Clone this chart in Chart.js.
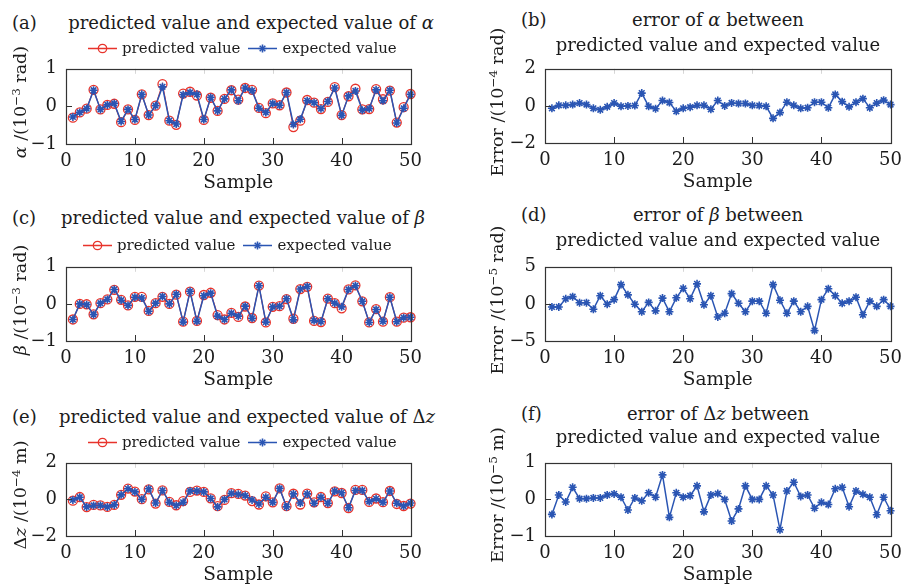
<!DOCTYPE html>
<html><head><meta charset="utf-8">
<script src="https://cdn.jsdelivr.net/npm/chart.js@4"></script>
<style>
html,body{margin:0;padding:0;background:#fff;}
#root{position:relative;width:906px;height:585px;overflow:hidden;font-family:'DejaVu Serif',serif;color:#1c1c1c;}
canvas{position:absolute;}
.t{position:absolute;white-space:nowrap;line-height:1;}
.sup{font-size:0.68em;position:relative;top:-0.5em;}
</style></head><body><div id="root"></div>
<script>
// ---- data ----
const samples = [1,2,3,4,5,6,7,8,9,10,11,12,13,14,15,16,17,18,19,20,21,22,23,24,25,26,27,28,29,30,31,32,33,34,35,36,37,38,39,40,41,42,43,44,45,46,47,48,49,50];
const xTicks = [0,10,20,30,40,50];

const alphaExpected = [-0.28,-0.16,-0.06,0.43,-0.08,0.04,0.08,-0.40,-0.08,-0.35,0.32,-0.23,0.02,0.52,-0.38,-0.47,0.31,0.37,0.32,-0.35,0.24,-0.12,0.20,0.44,0.15,0.49,0.42,-0.05,-0.16,0.08,0.03,0.37,-0.48,-0.34,0.15,0.10,-0.06,0.13,0.49,-0.24,0.28,0.41,-0.10,-0.06,0.44,0.15,0.43,-0.44,-0.05,0.32];
const alphaPredicted = [-0.30,-0.16,-0.06,0.44,-0.08,0.04,0.07,-0.42,-0.08,-0.36,0.32,-0.23,0.02,0.59,-0.38,-0.49,0.34,0.39,0.29,-0.36,0.23,-0.12,0.20,0.43,0.18,0.49,0.44,-0.04,-0.18,0.08,0.03,0.37,-0.55,-0.38,0.17,0.10,-0.07,0.12,0.51,-0.23,0.27,0.47,-0.08,-0.07,0.46,0.19,0.42,-0.43,-0.02,0.33];
const alphaError = [-0.13,0.03,0.03,0.07,0.15,0.07,-0.13,-0.21,-0.05,0.15,-0.02,0.00,0.02,0.69,-0.02,-0.15,0.29,0.18,-0.29,-0.13,-0.07,0.03,0.03,-0.18,0.29,0.00,0.16,0.13,0.13,0.03,0.02,-0.02,-0.67,-0.36,0.20,0.03,-0.13,-0.10,0.20,0.20,-0.10,0.62,0.23,-0.05,0.20,0.39,-0.10,0.15,0.31,0.07];

const betaExpected = [-0.42,0.00,-0.02,-0.29,0.02,0.12,0.39,0.10,-0.04,0.18,0.16,-0.20,0.02,0.20,0.00,0.26,-0.49,0.34,-0.47,0.22,0.29,-0.33,-0.42,-0.25,-0.33,-0.06,-0.39,0.49,-0.49,-0.08,-0.06,0.14,-0.43,0.40,0.47,-0.45,-0.48,0.14,0.02,-0.08,0.39,0.49,0.07,-0.50,-0.15,-0.47,0.18,-0.48,-0.37,-0.36];
const betaPredicted = [-0.42,0.00,-0.01,-0.28,0.02,0.12,0.38,0.11,-0.04,0.19,0.19,-0.19,0.02,0.19,0.00,0.25,-0.48,0.33,-0.46,0.24,0.30,-0.30,-0.42,-0.24,-0.35,-0.07,-0.38,0.49,-0.50,-0.08,-0.06,0.13,-0.40,0.40,0.46,-0.46,-0.49,0.14,0.02,-0.12,0.39,0.50,0.07,-0.50,-0.14,-0.48,0.18,-0.48,-0.37,-0.36];
const betaError = [-0.41,-0.41,0.69,0.98,0.16,0.16,-0.73,1.10,-0.04,0.57,2.60,1.22,-0.04,-1.06,0.20,-0.94,0.78,-1.06,0.82,2.10,0.69,2.70,-0.12,1.10,-1.76,-1.27,1.39,0.08,-1.06,0.37,0.37,-1.27,2.60,0.49,-1.27,0.37,-1.06,-0.33,-3.60,0.57,2.04,1.10,0.08,0.37,0.90,-1.47,0.37,-0.33,0.57,-0.33];

const dzExpected = [-0.03,0.12,-0.41,-0.33,-0.33,-0.41,-0.30,0.25,0.58,0.41,0.00,0.58,-0.20,0.49,-0.16,-0.33,-0.16,0.46,0.46,0.41,0.05,-0.41,0.00,0.33,0.28,0.21,-0.03,-0.25,0.12,-0.16,0.60,-0.41,0.30,-0.20,0.30,-0.21,0.12,-0.21,0.46,0.36,-0.46,0.49,0.49,-0.12,0.03,-0.16,0.46,-0.21,-0.36,-0.20];
const dzPredicted = [-0.07,0.13,-0.42,-0.30,-0.33,-0.41,-0.30,0.25,0.59,0.43,0.01,0.55,-0.23,0.49,-0.14,-0.32,-0.09,0.41,0.48,0.41,0.06,-0.37,-0.03,0.34,0.30,0.21,-0.09,-0.28,0.16,-0.16,0.60,-0.37,0.31,-0.28,0.32,-0.16,0.13,-0.20,0.44,0.35,-0.47,0.52,0.52,-0.14,0.05,-0.15,0.46,-0.25,-0.36,-0.23];
const dzError = [-0.41,0.12,-0.07,0.33,0.02,0.02,0.04,0.04,0.12,0.15,0.06,-0.29,0.04,-0.04,0.18,0.06,0.67,-0.49,0.18,0.06,0.10,0.37,-0.34,0.12,0.16,0.00,-0.59,-0.26,0.37,0.00,0.00,0.37,0.12,-0.83,0.23,0.47,0.08,0.12,-0.24,-0.08,-0.14,0.29,0.33,-0.20,0.23,0.14,0.06,-0.42,0.06,-0.31];

const yTicksA = [-1,0,1], yTicksB = [-2,0,2], yTicksC = [-1,0,1], yTicksD = [-5,0,5], yTicksE = [-2,0,2], yTicksF = [-1,0,1];

// ---- style ----
const FONT = "'DejaVu Serif', serif";
const RED = '#e8332b', BLUE = '#2a55b3', INK = '#1c1c1c';
const root = document.getElementById('root');

function txt(html, x, y, size, align, extra){
  const d = document.createElement('div');
  d.className = 't';
  d.innerHTML = html;
  d.style.left = x + 'px'; d.style.top = y + 'px';
  d.style.fontSize = size + 'px';
  d.style.transform = (align === 'center' ? 'translate(-50%,-50%)' : 'translate(0,-50%)') + (extra || '');
  root.appendChild(d);
  return d;
}
function ytitle(html, x, y, size){
  return txt(html, x, y, size, 'center', ' rotate(-90deg)');
}
function legend(x, y, size){
  const mk = (kind) => {
    const marker = kind === 'red'
      ? `<circle cx="14.5" cy="7" r="4.2" fill="none" stroke="${RED}" stroke-width="1.3"/>`
      : `<g stroke="${BLUE}" stroke-width="1.6"><line x1="14.5" y1="3" x2="14.5" y2="11"/><line x1="10.5" y1="7" x2="18.5" y2="7"/><line x1="11.7" y1="4.2" x2="17.3" y2="9.8"/><line x1="17.3" y1="4.2" x2="11.7" y2="9.8"/></g>`;
    const col = kind === 'red' ? RED : BLUE;
    return `<svg width="29" height="14" style="vertical-align:middle"><line x1="0" y1="7" x2="29" y2="7" stroke="${col}" stroke-width="1.5"/>${marker}</svg>`;
  };
  txt(`${mk('red')}<span style="margin-left:5px">predicted value</span><span style="margin-left:8px"></span>${mk('blue')}<span style="margin-left:5px">expected value</span>`, x, y, size, 'left');
}

const boxPlugin = {
  id: 'box',
  afterDatasetsDraw(chart){
    const {ctx, chartArea: a, scales} = chart;
    ctx.save();
    ctx.lineWidth = 1;
    const xs = scales.x, ys = scales.y;
    ctx.strokeStyle = '#333';
    xs.ticks.forEach(t => {
      const px = Math.round(xs.getPixelForValue(t.value)) + 0.5;
      ctx.beginPath(); ctx.moveTo(px, a.bottom); ctx.lineTo(px, a.bottom - 6); ctx.stroke();
    });
    ys.ticks.forEach(t => {
      const py = Math.round(ys.getPixelForValue(t.value)) + 0.5;
      ctx.beginPath(); ctx.moveTo(a.left, py); ctx.lineTo(a.left + 6, py); ctx.stroke();
    });
    ctx.strokeStyle = '#d6d6d6';
    xs.ticks.forEach(t => {
      const px = Math.round(xs.getPixelForValue(t.value)) + 0.5;
      ctx.beginPath(); ctx.moveTo(px, a.top); ctx.lineTo(px, a.top + 5); ctx.stroke();
    });
    ctx.strokeStyle = '#333';
    ctx.lineWidth = 1.2;
    ctx.strokeRect(Math.round(a.left)+0.5, Math.round(a.top)+0.5, Math.round(a.right-a.left), Math.round(a.bottom-a.top));
    ctx.restore();
  }
};

function panel(L, R, T, B, yMin, yMax, yTickList, datasets){
  const cv = document.createElement('canvas');
  const w = (R - L) + 74, h = (B - T) + 62;
  cv.width = w; cv.height = h;
  cv.style.left = (L - 60) + 'px'; cv.style.top = (T - 12) + 'px';
  cv.style.width = w + 'px'; cv.style.height = h + 'px';
  root.appendChild(cv);
  new Chart(cv, {
    type: 'line',
    data: { datasets },
    options: {
      responsive: false, animation: false, devicePixelRatio: 1,
      layout: { autoPadding: false, padding: { left: 0, right: 14, top: 12, bottom: 0 } },
      plugins: { legend: { display: false }, tooltip: { enabled: false } },
      scales: {
        x: {
          type: 'linear', min: 0, max: 50,
          afterBuildTicks: s => { s.ticks = xTicks.map(v => ({ value: v })); },
          afterFit: s => { s.height = 50; },
          grid: { display: false, drawTicks: false }, border: { display: false },
          ticks: { padding: 7, color: INK, font: { family: FONT, size: 18 } },
          title: { display: true, text: 'Sample', color: INK, padding: { top: 0, bottom: 0 }, font: { family: FONT, size: 18.5 } }
        },
        y: {
          min: yMin, max: yMax,
          afterBuildTicks: s => { s.ticks = yTickList.map(v => ({ value: v })); },
          afterFit: s => { s.width = 60; },
          grid: { display: false, drawTicks: false }, border: { display: false },
          ticks: { padding: 9, color: INK, font: { family: FONT, size: 18 },
                   callback: v => String(v).replace('-', '\u2212') }
        }
      }
    },
    plugins: [boxPlugin]
  });
}

const pts = vals => samples.map((s, i) => ({ x: s, y: vals[i] }));
const expectedDS = vals => ({ data: pts(vals), borderColor: BLUE, backgroundColor: BLUE, borderWidth: 1.5, clip: 8,
  pointStyle: 'star', pointRadius: 4, pointBorderWidth: 1.6, pointBorderColor: BLUE, tension: 0 });
const predictedDS = vals => ({ data: pts(vals), borderColor: RED, backgroundColor: 'rgba(0,0,0,0)', borderWidth: 1.2, clip: 8,
  pointStyle: 'circle', pointRadius: 4.5, pointBorderWidth: 1.3, pointBorderColor: RED, tension: 0 });
const errorDS = vals => ({ data: pts(vals), borderColor: BLUE, backgroundColor: BLUE, borderWidth: 1.5, clip: 8,
  pointStyle: 'star', pointRadius: 4, pointBorderWidth: 1.6, pointBorderColor: BLUE, tension: 0 });

panel(66, 415, 61, 144, -1, 1, yTicksA, [expectedDS(alphaExpected), predictedDS(alphaPredicted)]);
panel(545, 895, 61, 143, -2, 2, yTicksB, [errorDS(alphaError)]);
panel(66, 415, 259, 341, -1, 1, yTicksC, [expectedDS(betaExpected), predictedDS(betaPredicted)]);
panel(545, 895, 259, 341, -5, 5, yTicksD, [errorDS(betaError)]);
panel(66, 415, 455, 536, -2, 2, yTicksE, [expectedDS(dzExpected), predictedDS(dzPredicted)]);
panel(545, 895, 455, 536, -1, 1, yTicksF, [errorDS(dzError)]);

const TS = 18;
txt('(a)', 12, 23, TS, 'left');
txt('predicted value and expected value of <i>α</i>', 251, 23, TS, 'center');
txt('(b)', 521, 20, TS, 'left');
txt('error of <i>α</i> between', 718, 20, TS, 'center');
txt('predicted value and expected value', 718, 45, TS, 'center');
txt('(c)', 12, 218, TS, 'left');
txt('predicted value and expected value of <i>β</i>', 243, 218, TS, 'center');
txt('(d)', 521, 215, TS, 'left');
txt('error of <i>β</i> between', 718, 215, TS, 'center');
txt('predicted value and expected value', 718, 240, TS, 'center');
txt('(e)', 12, 417, TS, 'left');
txt('predicted value and expected value of Δ<i>z</i>', 247, 417, TS, 'center');
txt('(f)', 521, 414, TS, 'left');
txt('error of Δ<i>z</i> between', 718, 414, TS, 'center');
txt('predicted value and expected value', 718, 437, TS, 'center');

legend(88, 48, 15);
legend(83, 245, 15);
legend(88, 442, 15);

const YS = 17.5;
ytitle('<i>α</i> /(10<span class="sup">−3</span> rad)', 21, 102, YS);
ytitle('Error /(10<span class="sup">−4</span> rad)', 498, 102, YS);
ytitle('<i>β</i> /(10<span class="sup">−3</span> rad)', 21, 300, YS);
ytitle('Error /(10<span class="sup">−5</span> rad)', 498, 300, YS);
ytitle('Δ<i>z</i> /(10<span class="sup">−4</span> m)', 21, 495, YS);
ytitle('Error /(10<span class="sup">−5</span> m)', 498, 495, YS);
</script></body></html>
